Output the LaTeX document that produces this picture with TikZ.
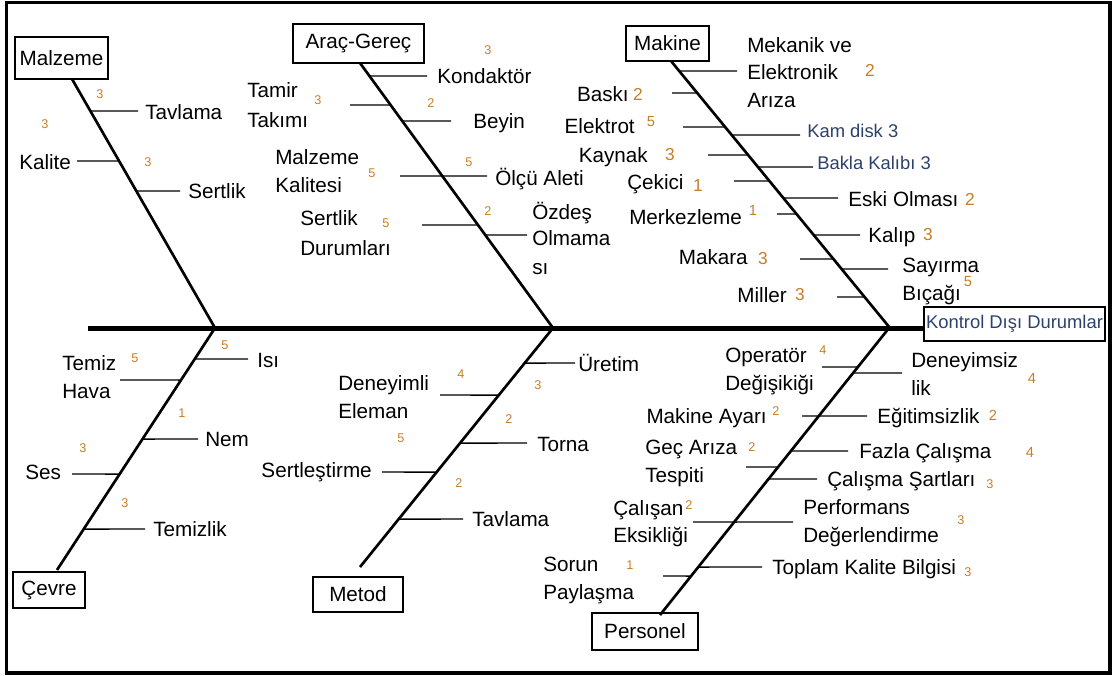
\documentclass[tikz,border=0pt]{standalone}
\usepackage{fontspec}
\setmainfont{Liberation Sans}
\definecolor{numcol}{RGB}{200,125,40}
\definecolor{navy}{RGB}{45,65,110}
\newcommand\lblfont{\fontsize{15.5}{18}\selectfont}
\newcommand\smallfnt{\fontsize{13.8}{16}\selectfont}
\newcommand\numsfont{\fontsize{9.5}{11}\selectfont}
\newcommand\nummfont{\fontsize{11}{13}\selectfont}
\newcommand\numbfont{\fontsize{13}{15}\selectfont}
% a short horizontal cause line leaving bone #1--#2 at height #3, ending at x=#4
\newcommand\twig[4]{\draw[twig] (intersection of #1--#2 and 0,#3--1,#3) -- (#4,#3);}
\tikzset{
  lbl/.style={font=\lblfont, inner sep=0pt, anchor=base west},
  lble/.style={lbl, anchor=base east},
  lbln/.style={font=\smallfnt, text=navy, inner sep=0pt, anchor=base west},
  nums/.style={font=\numsfont, text=numcol, inner sep=0pt},
  numm/.style={font=\nummfont, text=numcol, inner sep=0pt},
  numb/.style={font=\numbfont, text=numcol, inner sep=0pt},
  catbox/.style={draw, line width=1.1pt, inner sep=0pt, font=\lblfont},
  spine/.style={line width=3.75pt},
  bone/.style={line width=2pt},
  twig/.style={line width=1.1pt},
  frame/.style={line width=2.5pt},
}
\begin{document}
\begin{tikzpicture}[x=0.75pt, y=-0.75pt]
\useasboundingbox (0,0) rectangle (1114,675);
\draw[frame] (6.5,2.5) rectangle (1110,673);

% effect box and main spine
\node[catbox, font=\smallfnt, text=navy, minimum width=181*0.75pt, minimum height=34*0.75pt] (eff) at (1014.5,324) {Kontrol Dışı Durumlar};
\coordinate (sp0) at (88,328);
\draw[spine] (sp0) -- (sp0 -| eff.west);

% ---------------- Malzeme ----------------
\node[catbox, minimum width=93*0.75pt, minimum height=42*0.75pt] (mal) at (61.5,58) {Malzeme};
\coordinate (malA) at (72,79);
\coordinate (malB) at (215,328);
\draw[bone] (malA) -- (malB);
\twig{malA}{malB}{111}{138}
\node[lbl] (mal1) at (145,119) {Tavlama};
\node[nums] (mal1n) at (100,94) {3};
\twig{malA}{malB}{161}{77}
\node[lbl] (mal2) at (19,169) {Kalite};
\node[nums] (mal2n) at (45,124) {3};
\twig{malA}{malB}{191}{180}
\node[lbl] (mal3) at (188,198) {Sertlik};
\node[nums] (mal3n) at (148,162) {3};

% ---------------- Araç-Gereç ----------------
\node[catbox, minimum width=131*0.75pt, minimum height=39*0.75pt] (arc) at (358.5,43.5) {Araç-Gereç};
\coordinate (arcA) at (360,63);
\coordinate (arcB) at (553,328);
\draw[bone] (arcA) -- (arcB);
\twig{arcA}{arcB}{76}{427}
\node[lbl] (arc1) at (437,83.5) {Kondaktör};
\node[nums] (arc1n) at (488,50) {3};
\twig{arcA}{arcB}{105}{350}
\node[lbl] (arc2a) at (247,97.5) {Tamir};
\node[lbl] (arc2b) at (247,127.5) {Takımı};
\node[nums] (arc2n) at (318,100) {3};
\twig{arcA}{arcB}{121}{451}
\node[lbl] (arc3) at (473,128.5) {Beyin};
\node[nums] (arc3n) at (431,103) {2};
\twig{arcA}{arcB}{176}{400}
\twig{arcA}{arcB}{176}{487}
\node[lbl] (arc4a) at (275,164.5) {Malzeme};
\node[lbl] (arc4b) at (275,192.5) {Kalitesi};
\node[nums] (arc4n) at (372,173) {5};
\node[lbl] (arc5) at (495,185.5) {Ölçü Aleti};
\node[nums] (arc5n) at (469,162) {5};
\twig{arcA}{arcB}{225}{422}
\node[lbl] (arc6a) at (300,225.5) {Sertlik};
\node[lbl] (arc6b) at (300,255.5) {Durumları};
\node[nums] (arc6n) at (386,223) {5};
\twig{arcA}{arcB}{235}{527}
\node[lbl] (arc7a) at (532,219) {Özdeş};
\node[lbl] (arc7b) at (532,245.5) {Olmama};
\node[lbl] (arc7c) at (532,274) {sı};
\node[nums] (arc7n) at (488,211) {2};

% ---------------- Makine ----------------
\node[catbox, minimum width=83*0.75pt, minimum height=35*0.75pt] (mak) at (667.5,43.5) {Makine};
\coordinate (makA) at (671,61);
\coordinate (makB) at (890,328);
\draw[bone] (makA) -- (makB);
\twig{makA}{makB}{71}{737}
\node[lbl] (mak1a) at (747,52.5) {Mekanik ve};
\node[lbl] (mak1b) at (747,79.5) {Elektronik};
\node[lbl] (mak1c) at (747,107.5) {Arıza};
\node[numb] (mak1n) at (870,70) {2};
\twig{makA}{makB}{93}{672}
\node[lble] (mak2) at (629,101.5) {Baskı};
\node[numb] (mak2n) at (638,94) {2};
\twig{makA}{makB}{127}{683}
\node[lble] (mak3) at (635,133.5) {Elektrot};
\node[numm] (mak3n) at (651,122) {5};
\twig{makA}{makB}{135}{800}
\node[lbln] (mak4) at (807,137.5) {Kam disk 3};
\twig{makA}{makB}{155}{708}
\node[lble] (mak5) at (648,162.5) {Kaynak};
\node[numb] (mak5n) at (670,155) {3};
\twig{makA}{makB}{167}{813}
\node[lbln] (mak6) at (817,169) {Bakla Kalıbı 3};
\twig{makA}{makB}{181}{734}
\node[lbl] (mak7) at (627,189.5) {Çekici};
\node[numb] (mak7n) at (698,186) {1};
\twig{makA}{makB}{198}{838}
\node[lbl] (mak8) at (848,206) {Eski Olması};
\node[numb] (mak8n) at (970,199) {2};
\twig{makA}{makB}{214}{777}
\node[lbl] (mak9) at (629,224) {Merkezleme};
\node[numm] (mak9n) at (753,210) {1};
\twig{makA}{makB}{235}{860}
\node[lbl] (mak10) at (868,242.5) {Kalıp};
\node[numb] (mak10n) at (928,235) {3};
\twig{makA}{makB}{259}{800}
\node[lble] (mak11) at (748,264.5) {Makara};
\node[numb] (mak11n) at (763,259) {3};
\twig{makA}{makB}{269}{888}
\node[lbl] (mak12a) at (902,272) {Sayırma};
\node[lbl] (mak12b) at (902,300) {Bıçağı};
\node[numm] (mak12n) at (968,282) {5};
\twig{makA}{makB}{297}{837}
\node[lble] (mak13) at (787,302.5) {Miller};
\node[numb] (mak13n) at (800,295) {3};

% ---------------- Çevre ----------------
\node[catbox, minimum width=72*0.75pt, minimum height=36*0.75pt] (cev) at (49,590) {Çevre};
\coordinate (cevA) at (215,328);
\coordinate (cevB) at (57,570);
\draw[bone] (cevA) -- (cevB);
\twig{cevA}{cevB}{359}{248}
\node[lbl] (cev1) at (257,367.5) {Isı};
\node[nums] (cev1n) at (225,345) {5};
\twig{cevA}{cevB}{380}{120}
\node[lbl] (cev2a) at (62,370.5) {Temiz};
\node[lbl] (cev2b) at (62,398.5) {Hava};
\node[nums] (cev2n) at (135,358) {5};
\twig{cevA}{cevB}{439}{198}
\node[lbl] (cev3) at (205,446.5) {Nem};
\node[nums] (cev3n) at (182,413) {1};
\twig{cevA}{cevB}{474}{72}
\node[lbl] (cev4) at (25,479.5) {Ses};
\node[nums] (cev4n) at (83,448) {3};
\twig{cevA}{cevB}{529}{145}
\node[lbl] (cev5) at (153,536.5) {Temizlik};
\node[nums] (cev5n) at (125,503) {3};

% ---------------- Metod ----------------
\node[catbox, minimum width=90*0.75pt, minimum height=35*0.75pt] (met) at (358,594.5) {Metod};
\coordinate (metA) at (553,328);
\coordinate (metB) at (360,567);
\draw[bone] (metA) -- (metB);
\twig{metA}{metB}{363}{575}
\node[lbl] (met1) at (578,371) {Üretim};
\node[nums] (met1n) at (538,385) {3};
\twig{metA}{metB}{395}{440}
\node[lbl] (met2a) at (338,390.5) {Deneyimli};
\node[lbl] (met2b) at (338,418.5) {Eleman};
\node[nums] (met2n) at (461,374) {4};
\twig{metA}{metB}{443}{527}
\node[lbl] (met3) at (537,451.5) {Torna};
\node[nums] (met3n) at (509,419) {2};
\twig{metA}{metB}{472}{382}
\node[lble] (met4) at (372,477.5) {Sertleştirme};
\node[nums] (met4n) at (401,438) {5};
\twig{metA}{metB}{519}{463}
\node[lbl] (met5) at (472,526.5) {Tavlama};
\node[nums] (met5n) at (459,483) {2};

% ---------------- Personel ----------------
\node[catbox, minimum width=106*0.75pt, minimum height=37*0.75pt] (per) at (645,631.5) {Personel};
\coordinate (perA) at (889,328);
\coordinate (perB) at (660,615);
\draw[bone] (perA) -- (perB);
\twig{perA}{perB}{367}{822}
\node[lbl] (per1a) at (725,362.5) {Operatör};
\node[lbl] (per1b) at (725,390.5) {Değişikiği};
\node[nums] (per1n) at (823,350) {4};
\twig{perA}{perB}{373}{902}
\node[lbl] (per2a) at (911,367.5) {Deneyimsiz};
\node[lbl] (per2b) at (911,395.5) {lik};
\node[numm] (per2n) at (1032,378) {4};
\twig{perA}{perB}{416}{802}
\twig{perA}{perB}{416}{867}
\node[lble] (per3) at (767,423.5) {Makine Ayarı};
\node[nums] (per3n) at (776,411) {2};
\node[lbl] (per4) at (877,423.5) {Eğitimsizlik};
\node[numm] (per4n) at (993,415) {2};
\twig{perA}{perB}{467}{746}
\node[lbl] (per5a) at (645,454.5) {Geç Arıza};
\node[lbl] (per5b) at (645,482.5) {Tespiti};
\node[nums] (per5n) at (752,447) {2};
\twig{perA}{perB}{451}{848}
\node[lbl] (per6) at (859,458.5) {Fazla Çalışma};
\node[numm] (per6n) at (1030,452) {4};
\twig{perA}{perB}{479}{817}
\node[lbl] (per7) at (827,486.5) {Çalışma Şartları};
\node[nums] (per7n) at (990,484) {3};
\twig{perA}{perB}{522}{693}
\twig{perA}{perB}{522}{793}
\node[lbl] (per8a) at (613,515.5) {Çalışan};
\node[lbl] (per8b) at (613,542.5) {Eksikliği};
\node[nums] (per8n) at (689,505) {2};
\node[lbl] (per9a) at (803,514.5) {Performans};
\node[lbl] (per9b) at (803,542.5) {Değerlendirme};
\node[nums] (per9n) at (961,520) {3};
\twig{perA}{perB}{576}{663}
\node[lbl] (per10a) at (543,571.5) {Sorun};
\node[lbl] (per10b) at (543,599.5) {Paylaşma};
\node[nums] (per10n) at (630,565) {1};
\twig{perA}{perB}{567}{762}
\node[lbl] (per11) at (772,574.5) {Toplam Kalite Bilgisi};
\node[nums] (per11n) at (968,572) {3};
\end{tikzpicture}
\end{document}
